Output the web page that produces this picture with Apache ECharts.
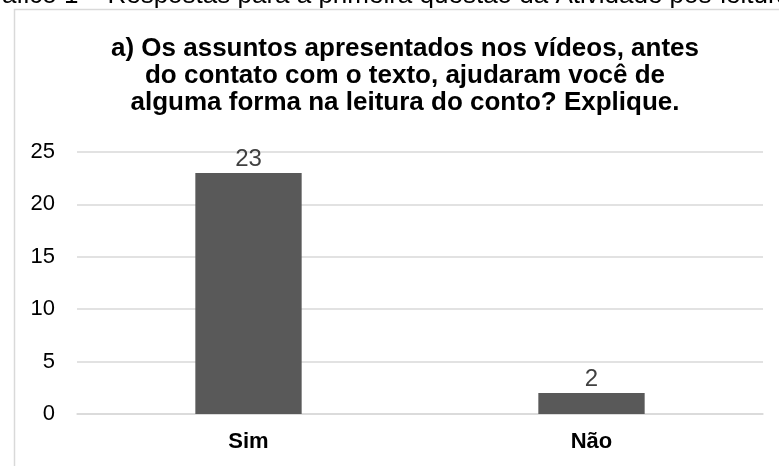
<!DOCTYPE html>
<html><head><meta charset="utf-8">
<script src="https://cdn.jsdelivr.net/npm/echarts@6/dist/echarts.min.js"></script>
<style>html,body{margin:0;padding:0;background:#fff}#c{width:779px;height:466px}</style>
</head><body><div id="c"></div>
<script>
const categories = ['Sim', 'Não'];
const values = [23, 2];
const yTicks = [0, 5, 10, 15, 20, 25];
const titleLines = ['a) Os assuntos apresentados nos vídeos, antes', 'do contato com o texto, ajudaram você de', 'alguma forma na leitura do conto? Explique.'];
const captionText = 'Gráfico 1 – Respostas para a primeira questão da Atividade pós-leitura';

const chart = echarts.init(document.getElementById('c'), null, {renderer: 'canvas'});
chart.setOption({
  animation: false,
  backgroundColor: '#fff',
  textStyle: {fontFamily: 'Liberation Sans, Arial, sans-serif'},
  graphic: [
    {type: 'rect', left: 12, top: 7, shape: {width: 800, height: 500}, style: {fill: 'none', stroke: '#d9d9d9', lineWidth: 1.5}, z: -1},
    {type: 'text', x: -27, y: -17, style: {text: captionText, font: '26px "Liberation Sans", Arial, sans-serif', fill: '#000'}}
  ],
  title: {
    text: titleLines.join('\n'),
    left: 400, textAlign: 'center', top: 30,
    textStyle: {fontSize: 26, fontWeight: 'bold', color: '#000', lineHeight: 27, fontFamily: 'Liberation Sans, Arial, sans-serif'}
  },
  grid: {left: 77, right: 16, top: 152, bottom: 52},
  xAxis: {
    type: 'category', data: categories,
    axisLine: {lineStyle: {color: '#d9d9d9', width: 1.5}},
    axisTick: {show: false},
    axisLabel: {fontSize: 22, fontWeight: 'bold', color: '#000', margin: 17}
  },
  yAxis: {
    type: 'value', min: yTicks[0], max: yTicks[yTicks.length - 1], interval: 5,
    axisLine: {show: false}, axisTick: {show: false},
    splitLine: {lineStyle: {color: '#d9d9d9', width: 1.5}},
    axisLabel: {fontSize: 22, color: '#000', margin: 22}
  },
  series: [{
    type: 'bar', data: values, barWidth: '31%',
    itemStyle: {color: '#595959'},
    label: {show: true, position: 'top', fontSize: 24, color: '#404040', distance: 2}
  }]
});
</script></body></html>
